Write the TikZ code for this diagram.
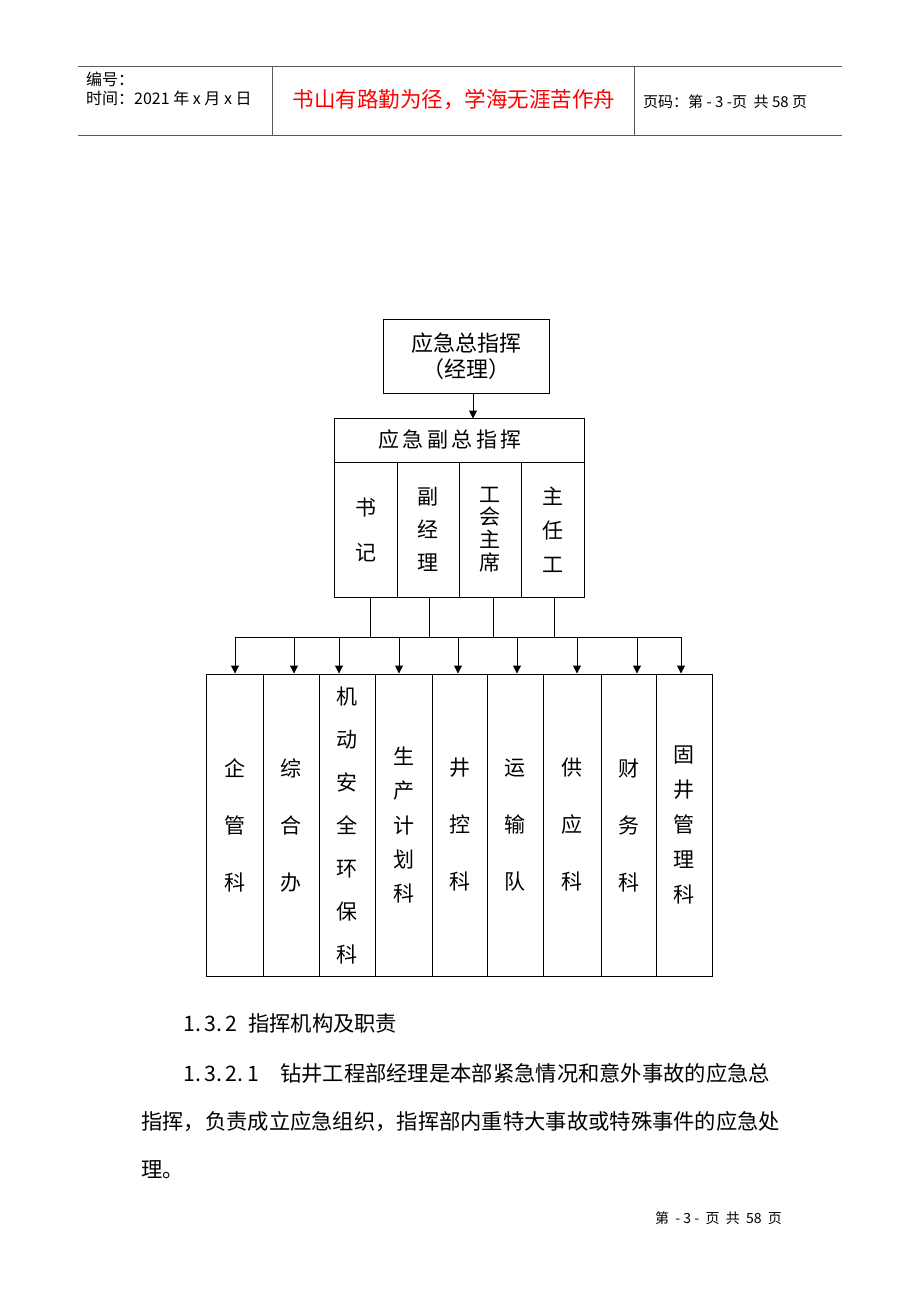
\documentclass[tikz,border=0pt]{standalone}
\usepackage{fontspec}
\setmainfont{Liberation Sans}
\newfontfamily\cjk{Noto Sans CJK SC}
\usetikzlibrary{arrows.meta}

\begin{document}
\begin{tikzpicture}[x=1pt,y=-1pt,
  box/.style={draw, line width=1pt, inner sep=0pt, align=center},
  col/.style={box, minimum height=135pt},
  dept/.style={box, minimum height=302pt, font=\cjk\fontsize{21}{57}\selectfont},
  body/.style={anchor=west, inner sep=0pt, font=\cjk\fontsize{21.3}{24}\selectfont},
  arr/.style={line width=1pt, -{Triangle[length=8pt,width=8pt]}}]
\useasboundingbox (0,0) rectangle (920,1302);
\fill[white] (0,0) rectangle (920,1302);

% page head
\draw[line width=1pt, black!65] (78,66) -- (842,66);
\draw[line width=1pt, black!65] (78,135) -- (842,135);
\draw[line width=1pt, black!65] (272,66) -- (272,135);
\draw[line width=1pt, black!65] (634,66) -- (634,135);
\node[anchor=west, inner sep=0pt, font=\cjk\fontsize{16}{18}\selectfont] (bh) at (86,79) {编号：};
\node[anchor=west, inner sep=0pt, font=\cjk\fontsize{16}{18}\selectfont] (sj) at (86,98) {时间：2021 年 x 月 x 日};
\node[red, inner sep=0pt, font=\cjk\fontsize{21.5}{24}\selectfont] (motto) at (454,100) {书山有路勤为径，学海无涯苦作舟};
\node[anchor=west, inner sep=0pt, font=\cjk\fontsize{15}{18}\selectfont] (ym) at (643,102) {页码：第 - 3 -页\ \ 共 58 页};

% chart
\node[box, minimum width=166pt, minimum height=74pt, font=\cjk\fontsize{22}{26}\selectfont] (zong) at (466.5,356) {应急总指挥\\（经理）};
\node[box, minimum width=250pt, minimum height=44pt, font=\cjk\fontsize{21}{24}\selectfont] (fu) at (459,440) {应\,急\,副\,总\,指\,挥\hspace{18pt}};
\node[col, minimum width=63pt, font=\cjk\fontsize{21}{45}\selectfont] (shuji) at (365.5,529.5) {书\\记};
\node[col, minimum width=62pt, font=\cjk\fontsize{21}{33}\selectfont] (fujl) at (428,529.5) {副\\经\\理};
\node[col, minimum width=62pt, font=\cjk\fontsize{21}{22.7}\selectfont] (gonghui) at (490,529.5) {工\\会\\主\\席};
\node[col, minimum width=63pt, font=\cjk\fontsize{21}{34}\selectfont] (zrg) at (552.5,529.5) {主\\任\\工};

\node[dept, minimum width=57pt] (qg) at (234.5,825) {企\\管\\科};
\node[dept, minimum width=56pt] (zh) at (291,825) {综\\合\\办};
\node[dept, minimum width=56pt, font=\cjk\fontsize{21}{43}\selectfont] (jd) at (347,825) {机\\动\\安\\全\\环\\保\\科};
\node[dept, minimum width=57pt, font=\cjk\fontsize{21}{34.3}\selectfont] (sc) at (403.5,825) {生\\产\\计\\划\\科};
\node[dept, minimum width=55pt] (jk) at (459.5,825) {井\\控\\科};
\node[dept, minimum width=56pt] (ys) at (515,825) {运\\输\\队};
\node[dept, minimum width=58pt] (gy) at (572,825) {供\\应\\科};
\node[dept, minimum width=55pt] (cw) at (628.5,825) {财\\务\\科};
\node[dept, minimum width=56pt, font=\cjk\fontsize{21}{35}\selectfont] (gj) at (684,825) {固\\井\\管\\理\\科};

\draw[arr] ([xshift=6.5pt]zong.south) -- ++(0,25);

\coordinate (t1) at (370,637);
\coordinate (t2) at (429,637);
\coordinate (t3) at (493,637);
\coordinate (t4) at (554,637);
\draw[line width=1pt] (shuji.south -| t1) -- (t1);
\draw[line width=1pt] (fujl.south -| t2) -- (t2);
\draw[line width=1pt] (gonghui.south -| t3) -- (t3);
\draw[line width=1pt] (zrg.south -| t4) -- (t4);

\coordinate (a1) at (235,637);
\coordinate (a2) at (294,637);
\coordinate (a3) at (339,637);
\coordinate (a4) at (399,637);
\coordinate (a5) at (458,637);
\coordinate (a6) at (517,637);
\coordinate (a7) at (577,637);
\coordinate (a8) at (637,637);
\coordinate (a9) at (681,637);
\draw[line width=1pt] (a1) -- (a9);
\draw[arr] (a1) -- (a1 |- qg.north);
\draw[arr] (a2) -- (a2 |- zh.north);
\draw[arr] (a3) -- (a3 |- jd.north);
\draw[arr] (a4) -- (a4 |- sc.north);
\draw[arr] (a5) -- (a5 |- jk.north);
\draw[arr] (a6) -- (a6 |- ys.north);
\draw[arr] (a7) -- (a7 |- gy.north);
\draw[arr] (a8) -- (a8 |- cw.north);
\draw[arr] (a9) -- (a9 |- gj.north);

% text below
\node[body] (h132) at (183,1023) {\makebox[65pt][l]{1.\,3.\,2}指挥机构及职责};
\node[body] (p1) at (183,1073) {\makebox[97pt][l]{1.\,3.\,2.\,1}钻井工程部经理是本部紧急情况和意外事故的应急总};
\node[body] (p2) at (141,1122) {指挥，负责成立应急组织，指挥部内重特大事故或特殊事件的应急处};
\node[body] (p3) at (141,1170) {理。};

\node[anchor=west, inner sep=0pt, font=\cjk\fontsize{14}{16}\selectfont] (ft) at (655,1218) {第\ \ - 3 -\ \ 页\ \ 共\ \ 58\ \ 页};
\end{tikzpicture}
\end{document}
